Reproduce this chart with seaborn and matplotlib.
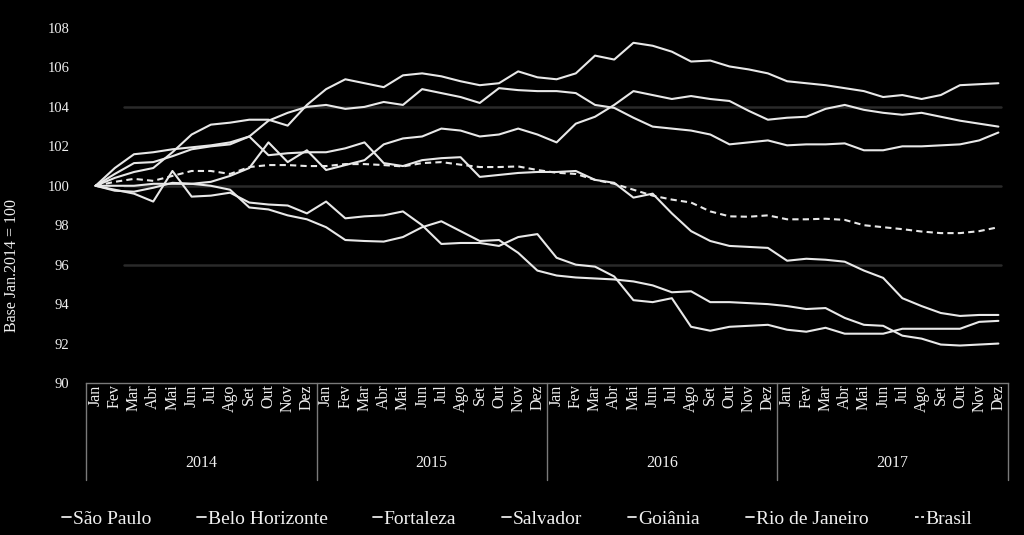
import numpy as np
import pandas as pd
import matplotlib
matplotlib.use("Agg")
import matplotlib.pyplot as plt
import seaborn as sns
from matplotlib.lines import Line2D

# ---------------- data ----------------
months = ['Jan', 'Fev', 'Mar', 'Abr', 'Mai', 'Jun', 'Jul', 'Ago', 'Set', 'Out', 'Nov', 'Dez']
years = ['2014', '2015', '2016', '2017']
cities = ['São Paulo', 'Belo Horizonte', 'Fortaleza', 'Salvador', 'Goiânia', 'Rio de Janeiro', 'Brasil']

sao_paulo = [100.0, 100.0, 100.0, 100.1, 100.1, 100.1, 100.2, 100.5, 100.9, 102.2, 101.2, 101.8,
             100.8, 101.05, 101.3, 102.1, 102.4, 102.5, 102.9, 102.8, 102.5, 102.6, 102.9, 102.6,
             102.2, 103.15, 103.5, 104.1, 104.8, 104.6, 104.4, 104.55, 104.4, 104.3, 103.8, 103.35,
             103.45, 103.5, 103.9, 104.1, 103.85, 103.7, 103.6, 103.7, 103.5, 103.3, 103.15, 103.0]
belo_horizonte = [100.0, 100.6, 101.15, 101.2, 101.5, 101.85, 102.0, 102.1, 102.5, 103.3, 103.7, 104.0,
                  104.1, 103.9, 104.0, 104.25, 104.1, 104.9, 104.7, 104.5, 104.2, 104.95, 104.85, 104.8,
                  104.8, 104.7, 104.1, 103.95, 103.45, 103.0, 102.9, 102.8, 102.6, 102.1, 102.2, 102.3,
                  102.05, 102.1, 102.1, 102.15, 101.8, 101.8, 102.0, 102.0, 102.05, 102.1, 102.3, 102.7]
fortaleza = [100.0, 100.9, 101.6, 101.7, 101.85, 101.95, 102.05, 102.2, 102.5, 101.55, 101.65, 101.7,
             101.7, 101.9, 102.2, 101.15, 101.0, 101.3, 101.4, 101.45, 100.45, 100.55, 100.65, 100.7,
             100.7, 100.75, 100.3, 100.15, 99.4, 99.6, 98.6, 97.7, 97.2, 96.95, 96.9, 96.85,
             96.2, 96.3, 96.25, 96.15, 95.7, 95.33, 94.3, 93.9, 93.55, 93.4, 93.45, 93.45]
salvador = [100.0, 99.8, 99.6, 99.2, 100.75, 99.45, 99.5, 99.65, 99.15, 99.05, 99.0, 98.6,
            99.2, 98.35, 98.45, 98.5, 98.7, 98.0, 97.05, 97.1, 97.1, 96.95, 97.4, 97.55,
            96.35, 96.0, 95.9, 95.4, 94.2, 94.1, 94.3, 92.85, 92.65, 92.85, 92.9, 92.95,
            92.7, 92.6, 92.8, 92.5, 92.5, 92.5, 92.75, 92.75, 92.75, 92.75, 93.1, 93.15]
goiania = [100.0, 100.4, 100.7, 100.9, 101.7, 102.6, 103.1, 103.2, 103.35, 103.35, 103.05, 104.1,
           104.9, 105.4, 105.2, 105.0, 105.6, 105.7, 105.55, 105.3, 105.1, 105.2, 105.8, 105.5,
           105.4, 105.7, 106.6, 106.4, 107.25, 107.1, 106.8, 106.3, 106.35, 106.05, 105.9, 105.7,
           105.3, 105.2, 105.1, 104.95, 104.8, 104.5, 104.6, 104.4, 104.6, 105.1, 105.15, 105.2]
rio_de_janeiro = [100.0, 99.75, 99.7, 99.9, 100.15, 100.1, 100.0, 99.8, 98.9, 98.8, 98.5, 98.3,
                  97.9, 97.25, 97.2, 97.17, 97.4, 97.9, 98.2, 97.7, 97.2, 97.25, 96.6, 95.7,
                  95.45, 95.35, 95.3, 95.25, 95.15, 94.95, 94.6, 94.65, 94.1, 94.1, 94.05, 94.0,
                  93.9, 93.75, 93.8, 93.3, 92.95, 92.9, 92.4, 92.25, 91.95, 91.9, 91.95, 92.0]
brasil = [100.0, 100.2, 100.35, 100.25, 100.5, 100.75, 100.75, 100.6, 100.95, 101.05, 101.05, 101.0,
          101.0, 101.1, 101.1, 101.05, 100.98, 101.15, 101.2, 101.07, 100.95, 100.95, 100.98, 100.8,
          100.66, 100.6, 100.3, 100.1, 99.8, 99.5, 99.3, 99.15, 98.7, 98.45, 98.43, 98.5,
          98.3, 98.3, 98.33, 98.27, 98.0, 97.9, 97.8, 97.68, 97.6, 97.6, 97.7, 97.9]

series = [sao_paulo, belo_horizonte, fortaleza, salvador, goiania, rio_de_janeiro, brasil]
y_ticks = [90, 92, 94, 96, 98, 100, 102, 104, 106, 108]
grid_values = [96, 100, 104]

# ---------------- build table ----------------
period = [f"{m}/{y}" for y in years for m in months]
rows = []
for name, vals in zip(cities, series):
    for i, v in enumerate(vals):
        rows.append({"idx": i, "periodo": period[i], "cidade": name, "valor": v})
df = pd.DataFrame(rows)

# ---------------- style ----------------
sns.set_theme(style="white")
plt.rcParams['font.family'] = ['Liberation Serif', 'DejaVu Serif']
FG = '#f0f0f0'
LINE = '#e8e8e8'
AXC = '#7a7a7a'

fig = plt.figure(figsize=(10.24, 5.35), dpi=100, facecolor='black')
ax = fig.add_axes([86 / 1024, 1 - 383 / 535, 922 / 1024, 355 / 535])
ax.set_facecolor('black')

for gv in grid_values:
    ax.axhline(gv, xmin=0.041, xmax=0.992, color='#2a2a2a', lw=1.8, zorder=1)

palette = {c: LINE for c in cities}
dashes = {c: "" for c in cities}
dashes['Brasil'] = (3.0, 2.0)
sns.lineplot(data=df, x="idx", y="valor", hue="cidade", style="cidade",
             palette=palette, dashes=dashes, linewidth=1.5, legend=False,
             ax=ax, zorder=3)
for ln in ax.lines:
    ln.set_solid_joinstyle('round')
    ln.set_dash_joinstyle('round')

n = len(period)
ax.set_xlim(-0.5, n - 0.5)
ax.set_ylim(y_ticks[0], y_ticks[-1])
ax.set_yticks(y_ticks)
ax.set_yticklabels([str(t) for t in y_ticks], color=FG, fontsize=10.5)
ax.set_xticks(range(n))
ax.set_xticklabels(months * len(years), rotation=90, color=FG, fontsize=11.5)
ax.tick_params(axis='y', length=0, pad=12)
ax.tick_params(axis='x', length=0, pad=1)
ax.set_xlabel("")
ax.set_ylabel("Base Jan.2014 = 100", color=FG, fontsize=11.5)
ax.yaxis.set_label_coords(-0.072, 0.33)

for s in ['top', 'right', 'left']:
    ax.spines[s].set_visible(False)
ax.spines['bottom'].set_color(AXC)
ax.spines['bottom'].set_linewidth(1.0)

# year group separators and labels
trans = ax.get_xaxis_transform()
for k in range(len(years) + 1):
    xb = k * 12 - 0.5
    ax.plot([xb, xb], [0, -0.273], transform=trans, color=AXC, lw=1.0, clip_on=False)
for k, yr in enumerate(years):
    ax.text(k * 12 + 5.5, -0.225, yr, transform=trans, ha='center', va='center',
            color=FG, fontsize=11.5)

# legend
handles = []
for c in cities:
    ls = (0, (2.0, 1.4)) if c == 'Brasil' else '-'
    handles.append(Line2D([0], [0], color=LINE, lw=1.3, linestyle=ls))
fig.legend(handles, cities, loc='center', bbox_to_anchor=(0.505, 0.03), ncol=7,
           frameon=False, fontsize=14, handlelength=0.45, handletextpad=0.1,
           columnspacing=2.35, labelcolor=FG)

fig.savefig("out.png", dpi=100, facecolor='black')
